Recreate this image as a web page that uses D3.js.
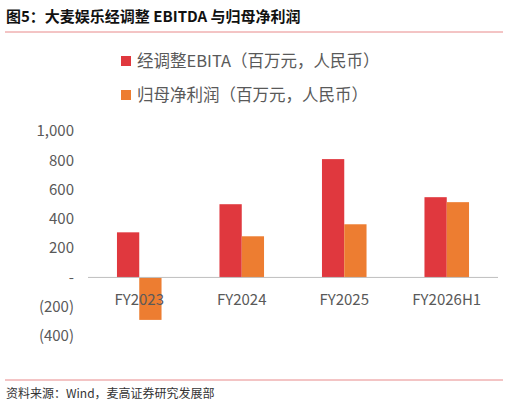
<!DOCTYPE html>
<html><head><meta charset="utf-8">
<script src="https://cdn.jsdelivr.net/npm/d3@7"></script>
<style>body{margin:0;background:#fff}text{font-family:"Noto Sans CJK SC","Noto Sans",sans-serif}</style>
</head><body><div id="chart"></div>
<script>
const categories = ['FY2023', 'FY2024', 'FY2025', 'FY2026H1'];
const ebitda = [308, 500, 808, 548];
const netProfit = [-290, 281, 363, 514];
const seriesNames = ['经调整EBITA（百万元，人民币）', '归母净利润（百万元，人民币）'];
const tickValues = [-400, -200, 0, 200, 400, 600, 800, 1000];
const colors = ['#E0383E', '#ED7D31'];

const W = 508, H = 406;
const svg = d3.select('#chart').append('svg').attr('width', W).attr('height', H);

svg.append('text').attr('x', 6).attr('y', 22).attr('font-size', 15).attr('font-weight', 'bold')
    .attr('fill', '#111').text('图5：大麦娱乐经调整 EBITDA 与归母净利润');
svg.append('line').attr('x1', 5).attr('x2', 503).attr('y1', 32).attr('y2', 32)
    .attr('stroke', '#E8898A').attr('stroke-width', 1);

// legend
seriesNames.forEach((n, i) => {
    const y = 61 + i * 34;
    svg.append('rect').attr('x', 121).attr('y', y - 5).attr('width', 10).attr('height', 10).attr('fill', colors[i]);
    svg.append('text').attr('x', 137).attr('y', y + 6).attr('font-size', 16.5).attr('fill', '#595959').text(n);
});

const y = d3.scaleLinear().domain([-400, 1000]).range([336, 131]);
const x = d3.scaleBand().domain(categories).range([88, 498]);
const x1 = d3.scaleBand().domain([0, 1]).range([0, x.bandwidth()]).paddingInner(0).paddingOuter(1.3);

const fmt = v => v === 0 ? '-' : v < 0 ? `(${d3.format(',')(-v)})` : d3.format(',')(v);
svg.append('g').attr('transform', 'translate(77,0)')
    .call(d3.axisLeft(y).tickValues(tickValues).tickFormat(fmt).tickSize(0))
    .call(g => g.select('.domain').remove())
    .call(g => g.selectAll('text').attr('font-size', 15).attr('fill', '#595959')
        .attr('text-anchor', 'end').attr('font-family', 'Carlito, Calibri, "Noto Sans", sans-serif'));

[ebitda, netProfit].forEach((vals, s) => {
    svg.append('g').selectAll('rect').data(vals).join('rect')
        .attr('x', (d, i) => x(categories[i]) + x1(s))
        .attr('width', x1.bandwidth())
        .attr('y', d => y(Math.max(0, d)))
        .attr('height', d => Math.abs(y(d) - y(0)))
        .attr('fill', colors[s]);
});

svg.append('line').attr('x1', 88).attr('x2', 498).attr('y1', y(0)).attr('y2', y(0))
    .attr('stroke', '#bfbfbf').attr('stroke-width', 1);

svg.append('g').selectAll('text').data(categories).join('text')
    .attr('x', d => x(d) + x.bandwidth() / 2).attr('y', 305).attr('text-anchor', 'middle')
    .attr('font-size', 15).attr('fill', '#595959').text(d => d);

svg.append('line').attr('x1', 5).attr('x2', 503).attr('y1', 380).attr('y2', 380)
    .attr('stroke', '#E8898A').attr('stroke-width', 1);
svg.append('text').attr('x', 6).attr('y', 398).attr('font-size', 12).attr('fill', '#333')
    .text('资料来源：Wind，麦高证券研究发展部');
</script></body></html>
